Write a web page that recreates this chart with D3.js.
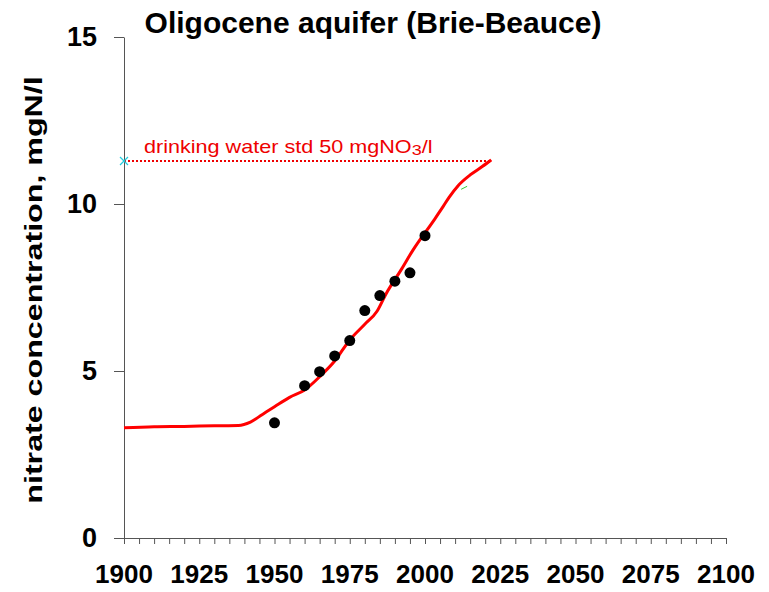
<!DOCTYPE html>
<html>
<head>
<meta charset="utf-8">
<script src="https://cdn.jsdelivr.net/npm/d3@7"></script>
<style>
  body { margin: 0; background: #fff; }
  text { font-family: "Liberation Sans", Arial, sans-serif; }
</style>
</head>
<body>
<div id="chart"></div>
<script>
// modelled curve (year, mgN/l)
const modelYears = [1900, 1910, 1920, 1930, 1938, 1942, 1946, 1950, 1955, 1960, 1965, 1970, 1975, 1980, 1984, 1987, 1992, 1996, 2003, 2006, 2008, 2011, 2015, 2019, 2022];
const modelValues = [3.3, 3.33, 3.34, 3.36, 3.37, 3.47, 3.7, 3.93, 4.21, 4.43, 4.83, 5.3, 5.93, 6.4, 6.78, 7.3, 8.02, 8.62, 9.52, 9.92, 10.2, 10.55, 10.87, 11.12, 11.32];

// observations
const obsYears = [1950, 1960, 1965, 1970, 1975, 1980, 1985, 1990, 1995, 2000];
const obsValues = [3.45, 4.56, 4.98, 5.45, 5.91, 6.81, 7.26, 7.69, 7.94, 9.05];

const stdValue = 50 / 4.43;   // 50 mgNO3/l expressed as mgN/l
const stdEndYear = 2022;

const xTicks = [1900, 1925, 1950, 1975, 2000, 2025, 2050, 2075, 2100];
const yTicks = [0, 5, 10, 15];

const width = 769;
const height = 592;
const margin = { top: 37, right: 43, bottom: 54, left: 124 };

const svg = d3.select("#chart")
    .append("svg")
    .attr("width", width)
    .attr("height", height);

const x = d3.scaleLinear()
    .domain([1900, 2100])
    .range([margin.left, width - margin.right]);

const y = d3.scaleLinear()
    .domain([0, 15])
    .range([height - margin.bottom, margin.top]);

// x axis: minor ticks every 5 years
const xAxis = svg.append("g")
    .attr("transform", `translate(0,${y(0)})`)
    .call(d3.axisBottom(x).tickValues(d3.range(1900, 2101, 5)).tickSize(6).tickFormat(""));
xAxis.select(".domain").attr("stroke", "#555");
xAxis.selectAll(".tick line").attr("stroke", "#555");

svg.append("g")
    .selectAll("text")
    .data(xTicks)
    .enter().append("text")
    .attr("x", d => x(d))
    .attr("y", 583)
    .attr("text-anchor", "middle")
    .style("font-size", "26px")
    .style("font-weight", "bold")
    .text(d => d);

// y axis
const yAxis = svg.append("g")
    .attr("transform", `translate(${x(1900)},0)`)
    .call(d3.axisLeft(y).tickValues(yTicks).tickSize(10).tickSizeOuter(0).tickPadding(17));
yAxis.select(".domain").attr("stroke", "#555");
yAxis.selectAll(".tick line").attr("stroke", "#555");
yAxis.selectAll(".tick text")
    .style("font-size", "27px")
    .style("font-weight", "bold")
    .style("font-family", "Liberation Sans, Arial, sans-serif")
    .attr("fill", "#000");

// drinking water standard
svg.append("line")
    .attr("x1", x(1900))
    .attr("x2", x(stdEndYear))
    .attr("y1", y(stdValue))
    .attr("y2", y(stdValue))
    .attr("stroke", "#e00")
    .attr("stroke-width", 2)
    .attr("stroke-dasharray", "2,2");

// cyan cross at start
const cx0 = x(1900), cy0 = y(stdValue);
svg.append("path")
    .attr("d", `M${cx0 - 4},${cy0 - 4}L${cx0 + 4},${cy0 + 4}M${cx0 - 4},${cy0 + 4}L${cx0 + 4},${cy0 - 4}`)
    .attr("stroke", "#2cd")
    .attr("stroke-width", 1.2);

const stdLabel = svg.append("text")
    .attr("transform", `translate(144,${y(stdValue) - 8}) scale(1.2,1)`)
    .attr("fill", "#e00")
    .style("font-size", "18px");
stdLabel.append("tspan").text("drinking water std 50 mgNO");
stdLabel.append("tspan").attr("dy", 2).style("font-size", "15px").text("3");
stdLabel.append("tspan").attr("dy", -2).text("/l");

// model curve
const line = d3.line()
    .x(d => x(d[0]))
    .y(d => y(d[1]))
    .curve(d3.curveMonotoneX);

svg.append("path")
    .datum(modelYears.map((yr, i) => [yr, modelValues[i]]))
    .attr("d", line)
    .attr("fill", "none")
    .attr("stroke", "#f00")
    .attr("stroke-width", 3);

// small green mark
svg.append("line")
    .attr("x1", x(2013) - 3)
    .attr("x2", x(2013) + 3)
    .attr("y1", y(10.5) + 2)
    .attr("y2", y(10.5) - 1)
    .attr("stroke", "#3c3")
    .attr("stroke-width", 1);

// observations
svg.selectAll(".obs")
    .data(obsYears.map((yr, i) => [yr, obsValues[i]]))
    .enter().append("circle")
    .attr("class", "obs")
    .attr("cx", d => x(d[0]))
    .attr("cy", d => y(d[1]))
    .attr("r", 5.5)
    .attr("fill", "#000");

// title
svg.append("text")
    .attr("x", 373)
    .attr("y", 33)
    .attr("text-anchor", "middle")
    .style("font-size", "30px")
    .style("font-weight", "bold")
    .text("Oligocene aquifer (Brie-Beauce)");

// y label
svg.append("text")
    .attr("transform", `translate(42,290) rotate(-90) scale(1.4,1)`)
    .attr("text-anchor", "middle")
    .style("font-size", "23px")
    .style("font-weight", "bold")
    .text("nitrate concentration, mgN/l");
</script>
</body>
</html>
